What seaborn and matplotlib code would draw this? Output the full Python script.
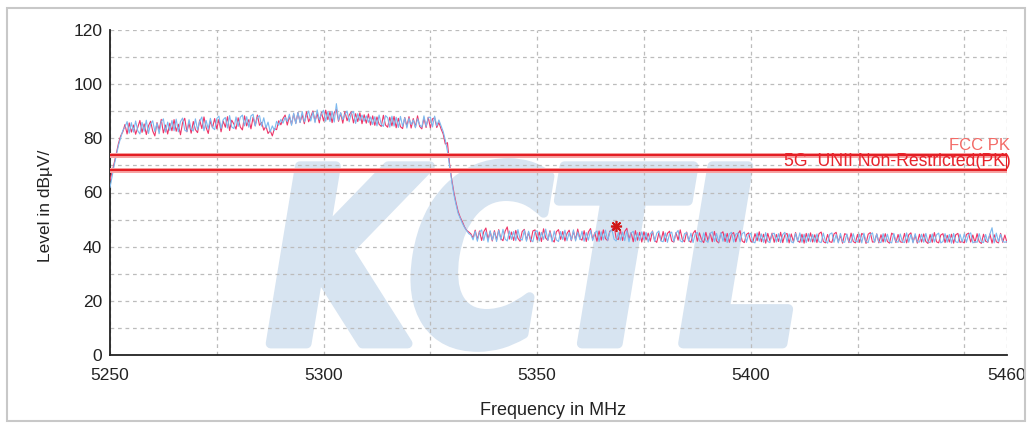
import numpy as np
import pandas as pd
import matplotlib
matplotlib.use("Agg")
import matplotlib.pyplot as plt
import seaborn as sns
from matplotlib.textpath import TextPath
from matplotlib.patches import PathPatch, Rectangle
from matplotlib.font_manager import FontProperties
from matplotlib.transforms import Affine2D

# sweep settings (MHz)
f_start = 5250.0
f_stop = 5460.0

# trace 1 (red), dBuV, every 0.5 MHz
level_trace1 = [
    64.5, 67.8, 71.0, 74.6, 78.2, 80.9, 82.4, 85.1, 81.6, 85.7,
    82.3, 84.9, 81.5, 84.0, 86.6, 82.2, 85.3, 81.4, 84.6, 86.3,
    82.7, 80.9, 85.8, 83.1, 87.0, 82.0, 84.9, 81.6, 85.6, 82.8,
    86.9, 82.6, 85.2, 81.3, 85.9, 87.4, 82.4, 85.7, 81.9, 86.2,
    83.2, 82.1, 86.8, 83.6, 87.9, 84.0, 81.8, 86.5, 83.9, 87.3,
    83.5, 87.0, 82.4, 86.4, 84.1, 88.0, 82.9, 86.7, 85.3, 83.4,
    87.6, 84.2, 83.1, 88.3, 84.6, 86.9, 83.5, 87.8, 84.7, 88.6,
    84.8, 85.9, 83.0, 84.5, 81.8, 82.9, 80.9, 83.6, 83.2, 86.5,
    85.0, 87.3, 88.6, 84.9, 88.1, 85.2, 89.0, 85.6, 89.5, 85.9,
    88.7, 85.4, 89.8, 86.1, 87.9, 90.1, 86.3, 89.2, 85.7, 89.6,
    86.4, 90.4, 86.9, 89.7, 85.8, 89.5, 90.7, 86.3, 89.3, 85.6,
    89.9, 86.5, 88.6, 89.8, 85.7, 89.1, 86.2, 89.4, 85.4, 88.7,
    85.6, 89.0, 84.9, 88.3, 84.8, 87.9, 85.2, 84.4, 88.5, 84.9,
    84.1, 87.8, 84.6, 88.1, 83.9, 87.4, 84.3, 83.6, 87.7, 84.5,
    88.0, 83.8, 87.3, 84.2, 88.3, 84.4, 83.5, 87.5, 84.0, 87.8,
    83.9, 87.2, 87.6, 84.0, 85.9, 83.5, 81.6, 77.9, 78.4, 70.6,
    64.8, 60.1, 56.3, 53.0, 50.8, 49.2, 47.3, 46.0, 45.4, 44.7,
    43.2, 46.1, 42.6, 45.8, 42.3, 45.5, 46.9, 42.7, 45.6, 42.1,
    45.9, 42.5, 46.3, 43.0, 42.2, 45.7, 47.3, 42.8, 45.4, 42.3,
    46.0, 43.1, 42.0, 45.6, 46.4, 42.4, 45.3, 41.8, 45.8, 46.2,
    42.5, 45.4, 41.9, 46.6, 43.2, 42.3, 45.9, 42.6, 41.7, 45.5,
    46.3, 42.7, 45.6, 42.1, 44.9, 46.1, 42.2, 45.7, 42.6, 46.5,
    43.0, 42.4, 45.9, 41.9, 45.4, 46.7, 42.7, 45.1, 42.0, 45.8,
    42.4, 46.2, 43.0, 42.2, 45.7, 46.0, 47.8, 43.1, 42.6, 46.1,
    42.3, 45.6, 46.8, 42.7, 45.2, 41.8, 45.9, 42.4, 45.3, 41.7,
    45.5, 42.5, 45.0, 42.0, 45.8, 42.3, 41.6, 45.1, 42.2, 45.6,
    41.9, 44.9, 45.7, 42.1, 41.7, 45.2, 42.4, 46.2, 42.6, 41.8,
    45.4, 42.3, 41.6, 44.9, 46.0, 42.0, 45.1, 42.5, 41.5, 45.3,
    42.2, 45.0, 41.8, 45.6, 42.1, 41.4, 44.8, 45.5, 41.9, 44.9,
    41.6, 44.6, 45.2, 41.8, 44.7, 45.9, 42.1, 41.5, 44.5, 45.1,
    42.0, 41.7, 44.8, 42.2, 45.5, 41.8, 44.6, 41.3, 44.9, 42.1,
    45.0, 41.6, 44.5, 41.9, 45.3, 41.5, 44.4, 44.9, 41.4, 44.7,
    41.8, 45.2, 42.1, 41.6, 44.6, 41.3, 44.9, 42.0, 45.1, 41.7,
    44.4, 41.5, 44.8, 45.4, 41.9, 41.4, 44.5, 41.8, 41.6, 44.7,
    45.3, 41.7, 44.2, 41.3, 44.8, 44.4, 41.5, 45.0, 41.9, 41.4,
    44.5, 41.6, 44.9, 44.3, 41.2, 44.6, 45.2, 41.7, 41.8, 44.7,
    41.4, 44.4, 41.7, 44.8, 41.9, 41.3, 45.0, 44.3, 41.5, 44.5,
    41.8, 41.6, 44.9, 41.4, 44.4, 45.1, 41.7, 44.2, 41.3, 44.6,
    41.7, 44.7, 41.9, 41.2, 44.5, 41.6, 45.2, 41.8, 41.4, 44.3,
    44.8, 41.5, 44.2, 41.7, 44.6, 41.3, 44.4, 44.9, 41.6, 41.9,
    41.4, 44.5, 45.0, 41.7, 44.3, 41.5, 44.8, 41.8, 41.2, 44.6,
    42.0, 41.6, 44.7, 41.3, 44.4, 41.8, 41.4, 44.9, 41.6, 44.3,
    41.5,
]

# trace 2 (blue)
level_trace2 = [
    61.8, 66.0, 70.2, 73.9, 77.5, 80.2, 82.9, 84.1, 86.2, 81.9,
    85.8, 82.3, 86.4, 82.8, 81.6, 85.9, 82.6, 86.7, 81.8, 85.2,
    86.5, 82.5, 85.6, 81.7, 86.1, 87.2, 82.3, 86.0, 82.9, 86.6,
    82.8, 87.1, 82.4, 86.2, 87.5, 83.0, 82.5, 86.9, 83.4, 82.7,
    87.2, 83.1, 86.3, 87.9, 82.8, 86.6, 83.5, 87.4, 84.0, 83.2,
    87.3, 88.2, 83.6, 86.9, 87.7, 83.8, 88.4, 84.2, 83.6, 87.9,
    84.4, 87.8, 88.6, 84.6, 88.0, 84.1, 88.3, 88.9, 84.5, 87.7,
    88.4, 84.5, 87.6, 83.8, 86.0, 82.4, 84.6, 82.9, 86.3, 84.8,
    87.0, 85.6, 87.8, 86.2, 88.9, 84.8, 89.3, 85.4, 89.6, 85.8,
    89.9, 86.1, 88.3, 90.1, 86.4, 89.7, 85.8, 90.5, 86.9, 89.0,
    90.4, 86.3, 89.9, 86.2, 90.0, 86.0, 92.8, 86.7, 89.5, 86.9,
    88.8, 90.1, 86.1, 89.4, 89.9, 85.5, 89.1, 86.6, 88.6, 86.3,
    88.3, 85.9, 87.9, 85.1, 88.0, 84.6, 88.6, 85.2, 84.4, 88.4,
    87.6, 84.1, 88.2, 84.5, 87.8, 84.0, 88.1, 84.4, 87.6, 83.8,
    87.4, 85.1, 86.8, 83.9, 87.2, 85.0, 84.1, 88.3, 84.4, 87.6,
    87.9, 84.2, 88.2, 84.6, 86.8, 84.7, 82.5, 79.4, 75.2, 69.8,
    64.1, 59.2, 55.6, 52.3, 50.4, 48.6, 47.1, 45.9, 44.8, 44.3,
    42.5, 45.7, 42.0, 45.3, 46.2, 42.3, 45.5, 41.7, 45.9, 42.4,
    45.4, 41.9, 46.0, 42.5, 46.4, 42.8, 42.1, 45.8, 42.7, 45.6,
    42.2, 46.3, 42.8, 42.4, 46.1, 42.0, 45.7, 42.6, 41.8, 45.5,
    45.9, 42.1, 45.3, 42.7, 46.5, 42.3, 45.4, 41.8, 45.8, 42.5,
    41.9, 45.6, 42.6, 46.1, 42.2, 45.2, 42.4, 46.2, 42.1, 45.4,
    42.6, 45.7, 42.0, 45.2, 42.4, 46.0, 42.2, 45.1, 45.8, 41.9,
    45.5, 42.5, 46.1, 42.3, 45.3, 46.4, 42.8, 42.1, 45.2, 42.4,
    45.4, 42.2, 45.9, 41.8, 45.0, 45.7, 42.0, 45.2, 42.3, 45.5,
    42.5, 45.3, 41.7, 44.8, 45.6, 41.9, 45.0, 45.8, 42.1, 41.8,
    45.1, 41.6, 44.7, 45.4, 41.8, 44.9, 46.0, 42.2, 41.7, 44.8,
    45.2, 42.0, 45.0, 41.5, 44.7, 45.3, 42.1, 41.7, 45.1, 42.2,
    41.6, 44.8, 45.5, 41.9, 44.9, 41.7, 45.2, 42.0, 44.8, 41.5,
    44.7, 45.3, 41.7, 44.6, 45.0, 41.8, 44.8, 45.4, 41.6, 44.5,
    44.9, 41.8, 41.4, 45.1, 42.0, 44.7, 41.6, 45.2, 41.9, 41.5,
    44.6, 45.0, 41.7, 44.8, 41.5, 44.5, 45.3, 41.6, 44.7, 41.8,
    41.4, 44.9, 41.9, 45.1, 41.6, 44.6, 41.5, 44.8, 41.8, 44.5,
    41.7, 44.7, 41.8, 41.5, 45.0, 42.0, 41.3, 44.6, 45.1, 41.6,
    44.5, 41.4, 44.9, 41.8, 41.6, 44.7, 41.9, 41.5, 44.8, 42.0,
    41.7, 44.6, 41.4, 45.0, 41.9, 41.5, 44.5, 45.1, 41.6, 44.7,
    41.8, 41.5, 44.8, 41.7, 44.6, 41.8, 41.4, 44.9, 42.0, 41.6,
    44.7, 41.9, 41.5, 45.1, 41.6, 44.5, 41.4, 44.8, 41.8, 41.7,
    44.6, 41.6, 44.9, 41.8, 41.5, 44.7, 41.7, 44.4, 45.0, 41.4,
    41.9, 44.8, 41.6, 44.5, 41.3, 44.9, 41.8, 41.5, 44.6, 41.7,
    44.7, 41.6, 44.4, 45.1, 41.4, 41.9, 41.6, 44.8, 41.8, 41.5,
    44.5, 41.7, 44.7, 47.0, 41.4, 45.0, 41.8, 44.6, 42.0, 41.6,
    41.9,
]

# limit lines
limit_names = ["FCC PK", "5G_UNII Non-Restricted(PK)"]
limit_values = [74.0, 68.2]
limit_text_colors = ["#f36a66", "#e8242c"]

# peak marker
marker_freq = 5368.5
marker_level = 47.5

x_ticks = [5250, 5275, 5300, 5325, 5350, 5375, 5400, 5425, 5450, 5460]
x_ticklabels = ["5250", "", "5300", "", "5350", "", "5400", "", "", "5460"]
y_ticks = list(range(0, 121, 10))
y_ticklabels = [str(v) if v % 20 == 0 else "" for v in y_ticks]

df = pd.concat([
    pd.DataFrame({"freq": np.linspace(f_start, f_stop, len(level_trace1)),
                  "level": level_trace1, "trace": "trace1"}),
    pd.DataFrame({"freq": np.linspace(f_start, f_stop, len(level_trace2)),
                  "level": level_trace2, "trace": "trace2"}),
])

sns.set_style("white")
plt.rcParams["font.family"] = ["Liberation Sans", "DejaVu Sans"]

W, H = 1029, 424
fig = plt.figure(figsize=(W / 100, H / 100), dpi=100)
ax = fig.add_axes([110 / W, 69 / H, 897 / W, 325 / H])

# outer frame
fig.patches.append(Rectangle((7 / W, 3 / H), 1018 / W, 413 / H, transform=fig.transFigure,
                             fill=False, edgecolor="#c8c8c8", linewidth=1.5))

# KCTL watermark
tp = TextPath((0, 0), "KCTL", size=100, prop=FontProperties(family="DejaVu Sans", weight="bold"))
ext = tp.get_extents()
tr = (Affine2D().translate(-ext.x0, -ext.y0)
      .scale(512 / ext.width, 184 / ext.height)
      .skew(np.arctan(0.165), 0)
      .translate(270, H - 347)
      .scale(1 / W, 1 / H)) + fig.transFigure
ax.add_patch(PathPatch(tp, transform=tr, facecolor="#d7e4f1", edgecolor="#d7e4f1",
                       linewidth=7, joinstyle="round", zorder=0.2, clip_on=False))

sns.lineplot(data=df, x="freq", y="level", hue="trace", estimator=None, sort=True,
             palette={"trace1": "#ee3568", "trace2": "#7db9ee"}, linewidth=0.8,
             legend=False, ax=ax, zorder=3)

for val in limit_values:
    ax.axhline(val, color="#f7a3a3", linewidth=3.6, zorder=4)
    ax.axhline(val, color="#e31e24", linewidth=1.5, zorder=4.1)
ax.vlines(f_stop, limit_values[1], limit_values[0], color="#e31e24", linewidth=1.5, zorder=4.1)

ax.text(5460.8, 75.6, limit_names[0], ha="right", va="baseline", fontsize=12,
        color=limit_text_colors[0], zorder=5, clip_on=False)
ax.text(5460.8, 70.0, limit_names[1], ha="right", va="baseline", fontsize=12.7,
        color=limit_text_colors[1], zorder=5, clip_on=False)

ax.plot([marker_freq], [marker_level], marker=(8, 2, 0), markersize=8, color="#d01818",
        markeredgewidth=1.2, linestyle="none", zorder=6)

ax.set_xlim(f_start, f_stop)
ax.set_ylim(0, 120)
ax.set_xticks(x_ticks)
ax.set_xticklabels(x_ticklabels)
ax.set_yticks(y_ticks)
ax.set_yticklabels(y_ticklabels)
ax.tick_params(axis="both", direction="inout", length=7, width=1.2, colors="#222222",
               labelsize=12.5, labelcolor="#222222")
ax.tick_params(axis="x", pad=6)
ax.tick_params(axis="y", pad=2)

ax.grid(True, color="#bcbcbc", linestyle=(0, (3, 3)), linewidth=0.9)
ax.set_axisbelow(True)
for side in ["top", "right"]:
    ax.spines[side].set_visible(False)
for side in ["left", "bottom"]:
    ax.spines[side].set_color("#222222")
    ax.spines[side].set_linewidth(1.3)

ax.set_xlabel("Frequency in MHz", fontsize=13, color="#222222")
ax.set_ylabel("Level in dBµV/", fontsize=12.5, color="#222222")
ax.xaxis.set_label_coords(0.494, -0.145)
ax.yaxis.set_label_coords(-0.0635, 0.46)

fig.savefig("out.png", dpi=100)
